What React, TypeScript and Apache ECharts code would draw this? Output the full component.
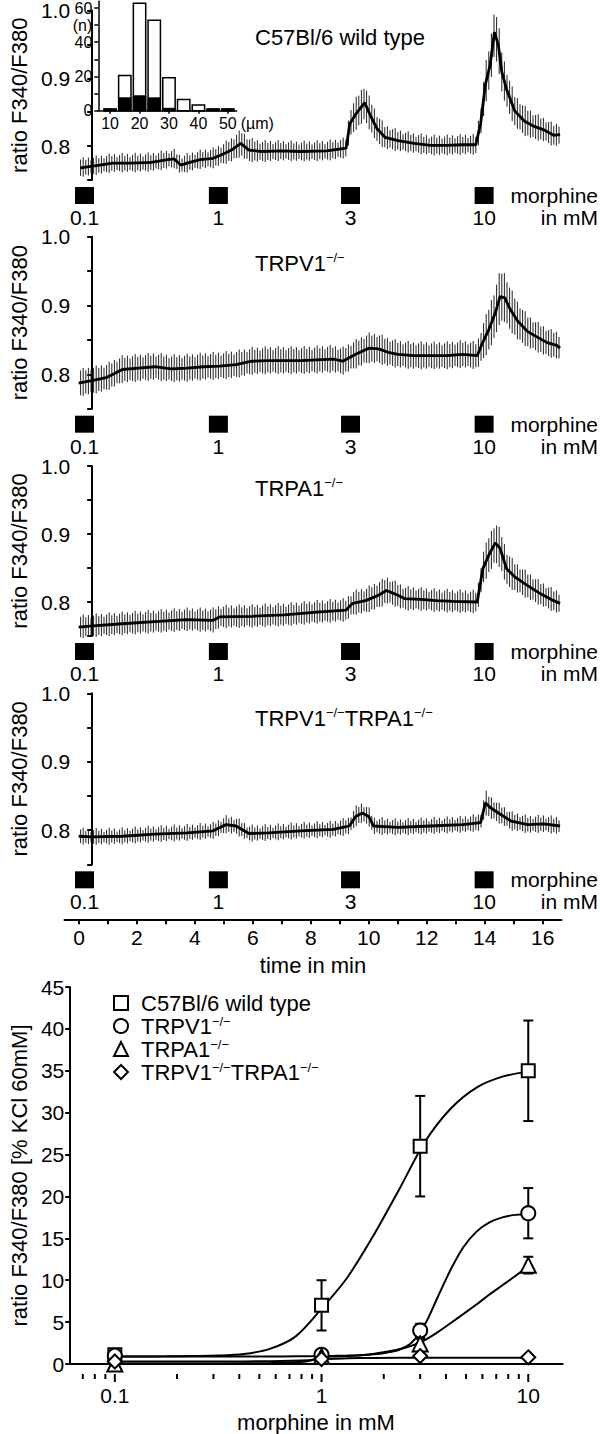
import React, { useEffect, useRef } from 'react';
import * as echarts from 'echarts';

const FONT = '"Liberation Sans", Arial, Helvetica, sans-serif';

// ---------- time course data ----------
const timeMin = -0.5;
const timeMax = 16.65;
const timeLabelValues = [0, 2, 4, 6, 8, 10, 12, 14, 16];
const timeTickValues = [0, 1, 2, 3, 4, 5, 6, 7, 8, 9, 10, 11, 12, 13, 14, 15, 16];

const morphineTimes = [0.19, 4.81, 9.37, 13.98];
const morphineDoses = ['0.1', '1', '3', '10'];

const wtT = [-0.42, 0.27, 0.72, 1.41, 2.1, 2.68, 2.91, 3.14, 3.37, 3.83, 4.29, 4.63, 4.98, 5.27, 5.56, 6.01, 6.7, 7.39, 8.32, 9.01, 9.14, 9.35, 9.67, 9.87, 10.1, 10.39, 10.85, 11.42, 12.0, 12.57, 13.15, 13.61, 13.78, 13.95, 14.12, 14.27, 14.41, 14.53, 14.7, 14.99, 15.33, 15.68, 16.02, 16.37, 16.6];
const wtV = [0.768, 0.772, 0.775, 0.775, 0.776, 0.78, 0.781, 0.772, 0.775, 0.78, 0.782, 0.788, 0.795, 0.804, 0.794, 0.792, 0.793, 0.792, 0.793, 0.797, 0.833, 0.847, 0.864, 0.845, 0.826, 0.813, 0.808, 0.804, 0.801, 0.801, 0.802, 0.802, 0.833, 0.891, 0.92, 0.968, 0.949, 0.91, 0.884, 0.852, 0.837, 0.829, 0.824, 0.816, 0.817];
const wtE = [0.012, 0.012, 0.012, 0.012, 0.012, 0.012, 0.012, 0.012, 0.012, 0.012, 0.013, 0.014, 0.016, 0.018, 0.016, 0.014, 0.013, 0.013, 0.013, 0.013, 0.02, 0.022, 0.025, 0.022, 0.02, 0.016, 0.014, 0.013, 0.013, 0.013, 0.013, 0.013, 0.02, 0.028, 0.03, 0.034, 0.032, 0.03, 0.026, 0.022, 0.02, 0.018, 0.016, 0.015, 0.015];

const v1T = [-0.48, 0.03, 0.49, 1.07, 1.64, 2.22, 2.8, 3.37, 3.95, 4.52, 5.1, 5.67, 6.25, 6.82, 7.4, 7.97, 8.55, 8.89, 9.35, 9.81, 10.16, 10.5, 10.85, 11.42, 12.0, 12.57, 13.15, 13.66, 13.84, 14.07, 14.3, 14.47, 14.64, 14.81, 15.1, 15.45, 15.79, 16.14, 16.48, 16.6];
const v1V = [0.787, 0.791, 0.795, 0.807, 0.809, 0.811, 0.808, 0.809, 0.811, 0.812, 0.814, 0.819, 0.82, 0.82, 0.82, 0.821, 0.822, 0.819, 0.829, 0.838, 0.837, 0.832, 0.829, 0.827, 0.827, 0.827, 0.829, 0.827, 0.845, 0.865, 0.889, 0.913, 0.911, 0.896, 0.877, 0.862, 0.854, 0.846, 0.842, 0.838];
const v1E = [0.018, 0.018, 0.018, 0.018, 0.018, 0.018, 0.018, 0.018, 0.018, 0.018, 0.018, 0.018, 0.018, 0.018, 0.018, 0.018, 0.018, 0.018, 0.019, 0.02, 0.02, 0.019, 0.018, 0.018, 0.018, 0.018, 0.018, 0.018, 0.024, 0.03, 0.034, 0.036, 0.034, 0.03, 0.026, 0.022, 0.02, 0.019, 0.018, 0.018];

const a1T = [-0.48, 0.03, 1.07, 2.22, 3.37, 4.29, 4.52, 5.67, 6.82, 7.97, 9.0, 9.24, 9.7, 10.16, 10.44, 10.73, 11.08, 11.65, 12.23, 12.8, 13.66, 13.86, 14.07, 14.3, 14.47, 14.7, 14.99, 15.45, 15.91, 16.37, 16.6];
const a1V = [0.763, 0.765, 0.768, 0.771, 0.774, 0.773, 0.778, 0.779, 0.781, 0.785, 0.788, 0.798, 0.802, 0.81, 0.817, 0.812, 0.805, 0.804, 0.802, 0.801, 0.8, 0.849, 0.869, 0.887, 0.879, 0.849, 0.837, 0.824, 0.812, 0.802, 0.798];
const a1E = [0.015, 0.015, 0.015, 0.015, 0.015, 0.016, 0.015, 0.015, 0.015, 0.015, 0.015, 0.016, 0.017, 0.018, 0.018, 0.017, 0.016, 0.015, 0.015, 0.015, 0.015, 0.022, 0.026, 0.028, 0.027, 0.024, 0.02, 0.018, 0.016, 0.015, 0.015];

const dkT = [-0.48, 0.03, 1.07, 2.22, 3.37, 4.29, 4.75, 5.1, 5.56, 6.25, 7.4, 8.55, 9.12, 9.35, 9.58, 9.81, 9.98, 10.85, 12.0, 13.15, 13.78, 13.95, 14.12, 14.41, 14.87, 15.45, 16.02, 16.6];
const dkV = [0.791, 0.79, 0.791, 0.794, 0.796, 0.799, 0.808, 0.806, 0.795, 0.796, 0.799, 0.801, 0.806, 0.82, 0.825, 0.82, 0.806, 0.804, 0.806, 0.808, 0.811, 0.84, 0.833, 0.825, 0.813, 0.808, 0.809, 0.806];
const dkE = [0.01, 0.01, 0.01, 0.01, 0.01, 0.01, 0.011, 0.011, 0.01, 0.01, 0.01, 0.01, 0.011, 0.013, 0.013, 0.012, 0.011, 0.01, 0.01, 0.01, 0.011, 0.016, 0.015, 0.013, 0.012, 0.011, 0.011, 0.011];

// ---------- inset histogram (cell diameter, µm) ----------
const histBins = [10, 15, 20, 25, 30, 35, 40, 45, 50];
const histTotal = [1, 20.5, 62.8, 52.8, 19.3, 6.6, 3.3, 1, 1];
const histResponders = [1, 7.5, 8.7, 7.5, 1.4, 0, 0, 1, 1];
const histXLabels = [10, 20, 30, 40, 50];
const histYLabels = [0, 20, 40, 50, 60];
const histYTicks = [0, 10, 20, 30, 40, 50, 60];

// ---------- dose response ----------
const doses = [0.1, 1, 3, 10];
const wtMean = [1.1, 7, 26, 35];
const wtErr = [0.5, 3, 6, 6];
const v1Mean = [1.0, 1.1, 4, 18];
const v1Err = [0.4, 0.5, 0.8, 3];
const a1Mean = [0.0, 0.9, 2.4, 11.8];
const a1Err = [0.3, 0.3, 0.6, 1.0];
const dkMean = [0.3, 0.6, 0.95, 0.8];
const dkErr = [0.2, 0.2, 0.2, 0.2];

// fitted curves
const wtCurveX = [0.1, 0.133, 0.178, 0.237, 0.316, 0.422, 0.562, 0.75, 1, 1.33, 1.78, 2.37, 3.16, 4.22, 5.62, 7.5, 10];
const wtCurveY = [0.9, 0.9, 0.92, 0.95, 1.0, 1.2, 1.8, 3.3, 6.6, 10.3, 15.3, 20.8, 26.5, 30.5, 33.0, 34.3, 34.9];
const v1CurveX = [0.1, 0.178, 0.316, 0.562, 0.75, 1, 1.155, 1.33, 1.54, 1.78, 2.05, 2.37, 2.74, 3.16, 3.65, 4.22, 4.87, 5.62, 6.49, 7.5, 8.66, 10];
const v1CurveY = [0.9, 0.9, 0.9, 0.9, 0.92, 0.95, 0.97, 1.0, 1.05, 1.15, 1.35, 1.7, 2.6, 4.7, 8.0, 11.3, 14.0, 15.8, 16.9, 17.5, 17.8, 17.9];
const a1CurveX = [0.1, 0.178, 0.316, 0.562, 0.75, 0.866, 1, 1.155, 1.33, 1.54, 1.78, 2.05, 2.37, 2.74, 3.16, 3.65, 4.22, 4.87, 5.62, 6.49, 7.5, 8.66, 10];
const a1CurveY = [0.05, 0.05, 0.07, 0.12, 0.2, 0.35, 0.8, 0.9, 0.95, 1.03, 1.2, 1.45, 1.75, 2.2, 2.85, 3.8, 4.9, 6.0, 7.1, 8.3, 9.4, 10.5, 11.7];
const dkCurveX = [0.1, 0.316, 0.562, 0.866, 1, 1.33, 1.78, 3.16, 10];
const dkCurveY = [0.3, 0.3, 0.33, 0.45, 0.6, 0.68, 0.72, 0.75, 0.75];

const doseLabelValues = [0.1, 1, 10];
const doseMinorTicks = [0.07, 0.08, 0.09, 0.2, 0.3, 0.4, 0.5, 0.6, 0.7, 0.8, 0.9, 2, 3, 4, 5, 6, 7, 8, 9];

const legendNames = ['C57Bl/6 wild type', 'TRPV1-/-', 'TRPA1-/-', 'TRPV1-/-TRPA1-/-'];
const legendRich: Record<string, string> = {
  'C57Bl/6 wild type': '{a|C57Bl/6 wild type}',
  'TRPV1-/-': '{a|TRPV1}{s|−/−}',
  'TRPA1-/-': '{a|TRPA1}{s|−/−}',
  'TRPV1-/-TRPA1-/-': '{a|TRPV1}{s|−/−}{b|TRPA1}{s|−/−}',
};
const panelTitles = [
  '{a|C57Bl/6 wild type}',
  '{a|TRPV1}{s|−/−}',
  '{a|TRPA1}{s|−/−}',
  '{a|TRPV1}{s|−/−}{a|TRPA1}{s|−/−}',
];

// ---------- layout ----------
const panels = [
  { top: 8, h: 172, titleTop: 25 },
  { top: 236.7, h: 172, titleTop: 251 },
  { top: 466, h: 170, titleTop: 476 },
  { top: 693.3, h: 171, titleTop: 706 },
];
const boxTops = [187, 415.7, 643, 871.3];
const TL = 64.5;
const TW = 497;
const HATCH = 2.6;
const DOSE_AXIS_OFFSET = 10;

export default function App() {
  const ref = useRef<HTMLDivElement>(null);
  useEffect(() => {
    if (!ref.current) return;
    const chart = echarts.init(ref.current, undefined, { renderer: 'svg' });
    const black = '#000';
    const grids: any[] = [];
    const xAxes: any[] = [];
    const yAxes: any[] = [];
    const series: any[] = [];

    const traces = [
      [wtT, wtV, wtE],
      [v1T, v1V, v1E],
      [a1T, a1V, a1E],
      [dkT, dkV, dkE],
    ];

    // trace panels 0..3
    panels.forEach((p, i) => {
      grids.push({ left: TL, top: p.top, width: TW, height: p.h });
      xAxes.push({ gridIndex: i, type: 'value', min: timeMin, max: timeMax, show: false });
      yAxes.push({
        gridIndex: i,
        type: 'value',
        min: 0.75,
        max: 1.0,
        interval: 0.05,
        axisLine: { show: true, lineStyle: { color: black, width: 2 } },
        axisTick: { show: true, length: 5, lineStyle: { color: black, width: 2 } },
        splitLine: { show: false },
        axisLabel: {
          fontSize: 21,
          color: black,
          margin: 8,
          fontFamily: FONT,
          formatter: (v: number) => (Math.round(v * 100) % 10 === 0 ? v.toFixed(1) : ''),
        },
        name: 'ratio F340/F380',
        nameLocation: 'middle',
        nameGap: 41,
        nameTextStyle: { fontSize: 22, color: black, fontFamily: FONT },
      });
      const [t, v, e] = traces[i];
      // dense SEM bars, hatched between successive samples
      series.push({
        type: 'custom', xAxisIndex: i, yAxisIndex: i, silent: true, z: 2,
        encode: { x: 0, y: 1 },
        data: t.map((x, k) => [x, v[k], e[k]]),
        renderItem: (params: any, api: any) => {
          const k = params.dataIndex;
          if (k >= t.length - 1) return null;
          const lo0 = api.coord([t[k], v[k] - e[k]]);
          const hi0 = api.coord([t[k], v[k] + e[k]]);
          const lo1 = api.coord([t[k + 1], v[k + 1] - e[k + 1]]);
          const hi1 = api.coord([t[k + 1], v[k + 1] + e[k + 1]]);
          const children: any[] = [];
          let xs = Math.ceil(lo0[0] / HATCH) * HATCH;
          while (xs < lo1[0]) {
            const f = (xs - lo0[0]) / (lo1[0] - lo0[0]);
            const yl = lo0[1] + f * (lo1[1] - lo0[1]);
            const yh = hi0[1] + f * (hi1[1] - hi0[1]);
            const jig = ((Math.round(xs / HATCH) * 7) % 5) - 2; // slight unevenness of bar ends
            children.push({
              type: 'line',
              shape: { x1: xs, y1: yh - jig, x2: xs, y2: yl + jig * 0.6 },
              style: { stroke: '#222', lineWidth: 1 },
            });
            xs += HATCH;
          }
          return { type: 'group', children };
        },
      });
      series.push({
        type: 'line', xAxisIndex: i, yAxisIndex: i, symbol: 'none', silent: true,
        lineStyle: { color: black, width: 2.8 }, data: t.map((x, k) => [x, v[k]]), z: 4,
      });
    });

    // morphine application rows 4..7
    boxTops.forEach((bt, j) => {
      const gi = 4 + j;
      grids.push({ left: TL, top: bt, width: TW, height: 17 });
      xAxes.push({ gridIndex: gi, type: 'value', min: timeMin, max: timeMax, show: false });
      yAxes.push({ gridIndex: gi, type: 'value', min: 0, max: 1, show: false });
      series.push({
        type: 'scatter', xAxisIndex: gi, yAxisIndex: gi, symbol: 'rect', symbolSize: [19, 17], silent: true,
        itemStyle: { color: black, opacity: 1 },
        data: morphineTimes.map((t) => [t, 0.5]),
        label: {
          show: true, position: 'bottom', distance: 3, fontSize: 21, color: black, fontFamily: FONT,
          formatter: (p: any) => morphineDoses[p.dataIndex],
        },
      });
    });

    // time axis grid 8
    grids.push({ left: TL, top: 900, width: TW, height: 19.3 });
    xAxes.push({
      gridIndex: 8, type: 'value', min: timeMin, max: timeMax,
      axisLine: { show: true, lineStyle: { color: black, width: 2 } },
      axisTick: { show: true, length: 5, customValues: timeTickValues, lineStyle: { color: black, width: 2 } },
      axisLabel: { customValues: timeLabelValues, fontSize: 21, color: black, margin: 8, fontFamily: FONT },
      splitLine: { show: false },
      name: 'time in min', nameLocation: 'middle', nameGap: 35,
      nameTextStyle: { fontSize: 22, color: black, fontFamily: FONT },
    });
    yAxes.push({ gridIndex: 8, type: 'value', min: 0, max: 1, show: false });
    series.push({ type: 'line', xAxisIndex: 8, yAxisIndex: 8, data: [], silent: true });

    // inset histogram grid 9
    grids.push({ left: 98.3, top: 0.3, width: 138.4, height: 110.4 });
    xAxes.push({
      gridIndex: 9, type: 'value', min: 6, max: 53,
      axisLine: { show: true, lineStyle: { color: black, width: 1.5 } },
      axisTick: { show: true, length: 3, customValues: histXLabels, lineStyle: { color: black, width: 1.5 } },
      axisLabel: { customValues: histXLabels, fontSize: 16, color: black, margin: 5, fontFamily: FONT },
      splitLine: { show: false },
      name: '(µm)', nameLocation: 'end', nameGap: 3,
      nameTextStyle: { fontSize: 16, color: black, fontFamily: FONT, verticalAlign: 'top', padding: [5, 0, 0, 0] },
    });
    yAxes.push({
      gridIndex: 9, type: 'value', min: 0, max: 64,
      axisLine: { show: true, lineStyle: { color: black, width: 1.5 } },
      axisTick: { show: true, length: 4, customValues: histYTicks, lineStyle: { color: black, width: 1.5 } },
      axisLabel: {
        customValues: histYLabels, fontSize: 16, color: black, margin: 6, fontFamily: FONT,
        formatter: (v: number) => (Math.round(v) === 50 ? '(n)' : String(Math.round(v))),
      },
      splitLine: { show: false },
    });
    series.push({
      type: 'custom', xAxisIndex: 9, yAxisIndex: 9, silent: true, z: 3,
      encode: { x: 0, y: 1 },
      data: histBins.map((b, i) => [b, histTotal[i], histResponders[i]]),
      renderItem: (params: any, api: any) => {
        const b = api.value(0);
        const tot = api.value(1);
        const resp = api.value(2);
        const tl = api.coord([b - 2.1, tot]);
        const br = api.coord([b + 2.1, 0]);
        const rt = api.coord([b - 2.1, resp]);
        return {
          type: 'group',
          children: [
            {
              type: 'rect',
              shape: { x: tl[0], y: tl[1], width: br[0] - tl[0], height: br[1] - tl[1] },
              style: { fill: '#fff', stroke: black, lineWidth: 1.5 },
            },
            {
              type: 'rect',
              shape: { x: rt[0], y: rt[1], width: br[0] - rt[0], height: br[1] - rt[1] },
              style: { fill: black, stroke: black, lineWidth: 1 },
            },
          ],
        };
      },
    });

    // dose-response grid 10
    grids.push({ left: 65, top: 987, width: 497.6, height: 378 });
    xAxes.push({
      gridIndex: 10, type: 'log', logBase: 10, min: 0.0602, max: 14.66, offset: DOSE_AXIS_OFFSET, position: 'bottom',
      axisLine: { show: true, lineStyle: { color: black, width: 2 } },
      axisTick: { show: false },
      axisLabel: {
        customValues: doseLabelValues, fontSize: 21, color: black, margin: 11, fontFamily: FONT,
        formatter: (v: number) => (v < 0.5 ? '0.1' : String(Math.round(v))),
      },
      splitLine: { show: false },
      minorTick: { show: false },
      name: 'morphine in mM', nameLocation: 'middle', nameGap: 37,
      nameTextStyle: { fontSize: 22, color: black, fontFamily: FONT },
    });
    yAxes.push({
      gridIndex: 10, type: 'value', min: 0, max: 45, interval: 5,
      axisLine: { show: true, lineStyle: { color: black, width: 2 } },
      axisTick: { show: true, length: 4, lineStyle: { color: black, width: 2 } },
      axisLabel: { fontSize: 21, color: black, margin: 5, fontFamily: FONT },
      splitLine: { show: false },
      name: 'ratio F340/F380 [% KCl 60mM]', nameLocation: 'middle', nameGap: 37,
      nameTextStyle: { fontSize: 22, color: black, fontFamily: FONT },
    });
    // log-axis tick marks (decades long, minor short), placed through the axis scale
    const doseTicks = [
      ...doseLabelValues.map((v) => [v, 0, 8]),
      ...doseMinorTicks.map((v) => [v, 0, 5]),
    ];
    series.push({
      type: 'custom', xAxisIndex: 10, yAxisIndex: 10, silent: true, z: 6, clip: false,
      encode: { x: 0, y: 1 },
      data: doseTicks,
      renderItem: (params: any, api: any) => {
        const p = api.coord([api.value(0), 0]);
        const y0 = p[1] + DOSE_AXIS_OFFSET;
        return {
          type: 'line',
          shape: { x1: p[0], y1: y0, x2: p[0], y2: y0 + api.value(2) },
          style: { stroke: black, lineWidth: 2 },
        };
      },
    });

    const groups = [
      { name: legendNames[0], mean: wtMean, err: wtErr, cx: wtCurveX, cy: wtCurveY, symbol: 'rect', size: 13 },
      { name: legendNames[1], mean: v1Mean, err: v1Err, cx: v1CurveX, cy: v1CurveY, symbol: 'circle', size: 14 },
      { name: legendNames[2], mean: a1Mean, err: a1Err, cx: a1CurveX, cy: a1CurveY, symbol: 'triangle', size: 15 },
      { name: legendNames[3], mean: dkMean, err: dkErr, cx: dkCurveX, cy: dkCurveY, symbol: 'diamond', size: 14 },
    ];
    groups.forEach((g) => {
      series.push({
        type: 'custom', xAxisIndex: 10, yAxisIndex: 10, silent: true, z: 2,
        encode: { x: 0, y: 1 },
        data: doses.map((d, i) => [d, g.mean[i], g.err[i]]),
        renderItem: (params: any, api: any) => {
          const x = api.value(0);
          const y = api.value(1);
          const e = api.value(2);
          const top = api.coord([x, y + e]);
          const bot = api.coord([x, y - e]);
          const st = { stroke: black, lineWidth: 2 };
          return {
            type: 'group',
            children: [
              { type: 'line', shape: { x1: top[0], y1: top[1], x2: bot[0], y2: bot[1] }, style: st },
              { type: 'line', shape: { x1: top[0] - 5, y1: top[1], x2: top[0] + 5, y2: top[1] }, style: st },
              { type: 'line', shape: { x1: bot[0] - 5, y1: bot[1], x2: bot[0] + 5, y2: bot[1] }, style: st },
            ],
          };
        },
      });
      series.push({
        type: 'line', xAxisIndex: 10, yAxisIndex: 10, symbol: 'none', silent: true, z: 3,
        smooth: 0.3,
        lineStyle: { color: black, width: 2 },
        data: g.cx.map((x, i) => [x, g.cy[i]]),
      });
      series.push({
        type: 'scatter', name: g.name, xAxisIndex: 10, yAxisIndex: 10, z: 5,
        symbol: g.symbol, symbolSize: g.size,
        itemStyle: { color: '#fff', borderColor: black, borderWidth: 2, opacity: 1 },
        data: doses.map((d, i) => [d, g.mean[i]]),
      });
    });

    const titleRich = {
      a: { fontSize: 22, lineHeight: 24, color: black, fontFamily: FONT },
      s: { fontSize: 13, lineHeight: 13, verticalAlign: 'top', color: black, fontFamily: FONT },
    };

    const graphics: any[] = [];
    boxTops.forEach((bt) => {
      graphics.push({
        type: 'text', right: 2, top: bt - 2,
        style: { text: 'morphine', fontSize: 21, lineHeight: 21, fill: black, fontFamily: FONT },
      });
      graphics.push({
        type: 'text', right: 2, top: bt + 20,
        style: { text: 'in mM', fontSize: 21, lineHeight: 21, fill: black, fontFamily: FONT },
      });
    });

    chart.setOption({
      animation: false,
      backgroundColor: '#fff',
      textStyle: { fontFamily: FONT, color: black },
      title: panels.map((p, i) => ({
        text: panelTitles[i],
        left: 255,
        top: p.titleTop,
        padding: 0,
        textStyle: { fontSize: 22, fontWeight: 'normal', color: black, fontFamily: FONT, rich: titleRich },
      })),
      legend: {
        data: legendNames,
        orient: 'vertical',
        left: 113,
        top: 992,
        itemWidth: 14,
        itemHeight: 14,
        itemGap: 1,
        padding: 0,
        selectedMode: false,
        formatter: (name: string) => legendRich[name],
        textStyle: {
          fontSize: 22,
          color: black,
          fontFamily: FONT,
          rich: {
            a: { fontSize: 22, lineHeight: 22, padding: [0, 0, 0, 8], color: black, fontFamily: FONT },
            b: { fontSize: 22, lineHeight: 22, color: black, fontFamily: FONT },
            s: { fontSize: 13, lineHeight: 13, verticalAlign: 'top', color: black, fontFamily: FONT },
          },
        },
      },
      grid: grids,
      xAxis: xAxes,
      yAxis: yAxes,
      series,
      graphic: graphics,
    });
    return () => chart.dispose();
  }, []);
  return (
    <div
      ref={ref}
      style={{ position: 'absolute', left: 0, top: 0, width: 600, height: 1434, background: '#fff' }}
    />
  );
}
